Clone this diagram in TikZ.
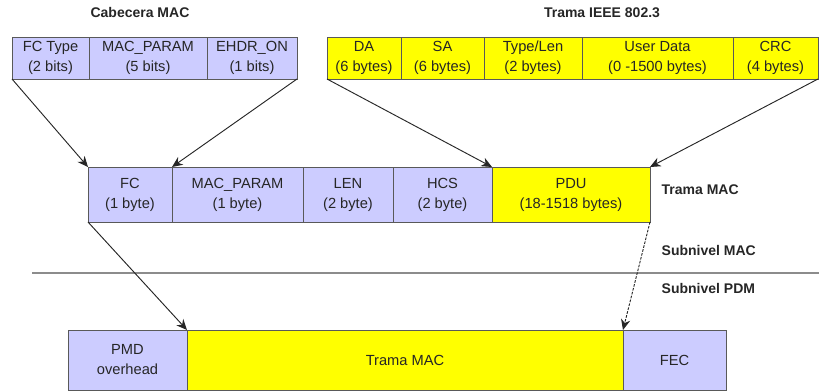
\documentclass[tikz,border=0pt]{standalone}
\usepackage{fontspec}
\setmainfont{Liberation Sans}
\usetikzlibrary{positioning,arrows.meta}
\definecolor{lavanda}{RGB}{204,204,255}
\definecolor{amarillo}{RGB}{255,255,0}

\begin{document}
\begin{tikzpicture}[x=0.75pt, y=-0.75pt, >={Stealth[length=8pt,width=7pt]},
  field/.style={draw=black!65, fill=lavanda, outer sep=0pt, inner sep=0pt,
    align=center, text=black!85, font=\fontsize{11}{15}\selectfont},
  yfield/.style={field, fill=amarillo},
  fw/.style={minimum width={#1*0.75pt}},
  fh/.style={minimum height={#1*0.75pt}},
  head/.style={text=black!85, font=\fontsize{10.5}{12}\selectfont\bfseries},
  side/.style={head, anchor=west},
  conn/.style={->, draw=black!85, line width=0.7pt}]
  \useasboundingbox (0,0) rectangle (819,391);

  % --- Cabecera MAC ---
  \node[head] (cabecera) at (140,13) {Cabecera MAC};
  \node[field, fw=77, fh=42, anchor=north west] (fctype) at (12,37) {FC Type\\(2 bits)};
  \node[field, fw=118, fh=42, right=0pt of fctype] (macparam) {MAC\_PARAM\\(5 bits)};
  \node[field, fw=90, fh=42, right=0pt of macparam] (ehdr) {EHDR\_ON\\(1 bits)};

  % --- Trama IEEE 802.3 ---
  \node[head] (trama8023) at (602,13) {Trama IEEE 802.3};
  \node[yfield, fw=74, fh=42, anchor=north west] (da) at (327,37) {DA\\(6 bytes)};
  \node[yfield, fw=83, fh=42, right=0pt of da] (sa) {SA\\(6 bytes)};
  \node[yfield, fw=98, fh=42, right=0pt of sa] (typelen) {Type/Len\\(2 bytes)};
  \node[yfield, fw=151, fh=42, right=0pt of typelen] (userdata) {User Data\\(0 -1500 bytes)};
  \node[yfield, fw=85, fh=42, right=0pt of userdata] (crc) {CRC\\(4 bytes)};

  % --- Trama MAC ---
  \node[field, fw=84, fh=55, anchor=north west] (fc) at (88,167) {FC\\(1 byte)};
  \node[field, fw=131, fh=55, right=0pt of fc] (mparam) {MAC\_PARAM\\(1 byte)};
  \node[field, fw=90, fh=55, right=0pt of mparam] (len) {LEN\\(2 byte)};
  \node[field, fw=99, fh=55, right=0pt of len] (hcs) {HCS\\(2 byte)};
  \node[yfield, fw=158, fh=55, right=0pt of hcs] (pdu) {PDU\\(18-1518 bytes)};
  \node[side] (lbltrama) at (657,190) {Trama MAC};

  % --- subniveles ---
  \node[side] (lblsubmac) at (657,250) {Subnivel MAC};
  \node[side] (lblsubpdm) at (657,288) {Subnivel PDM};
  \coordinate (sepL) at (32,273);
  \coordinate (sepR) at (819,273);
  \draw[black!45, line width=1.4pt] (sepL) -- (sepR);

  % --- trama PDM ---
  \node[field, fw=119, fh=60, anchor=north west] (pmd) at (68,330) {PMD\\overhead};
  \node[yfield, fw=436, fh=60, right=0pt of pmd] (tmac) {Trama MAC};
  \node[field, fw=103, fh=60, right=0pt of tmac] (fec) {FEC};

  % arrows
  \draw[conn] (fctype.south west) -- (fc.north west);
  \draw[conn] (ehdr.south east) -- (mparam.north west);
  \draw[conn] (da.south west) -- (pdu.north west);
  \draw[conn] (crc.south east) -- (pdu.north east);
  \draw[conn] (fc.south west) -- (tmac.north west);
  \draw[conn, dash pattern=on 2pt off 1pt] (pdu.south east) -- (tmac.north east);
\end{tikzpicture}
\end{document}
